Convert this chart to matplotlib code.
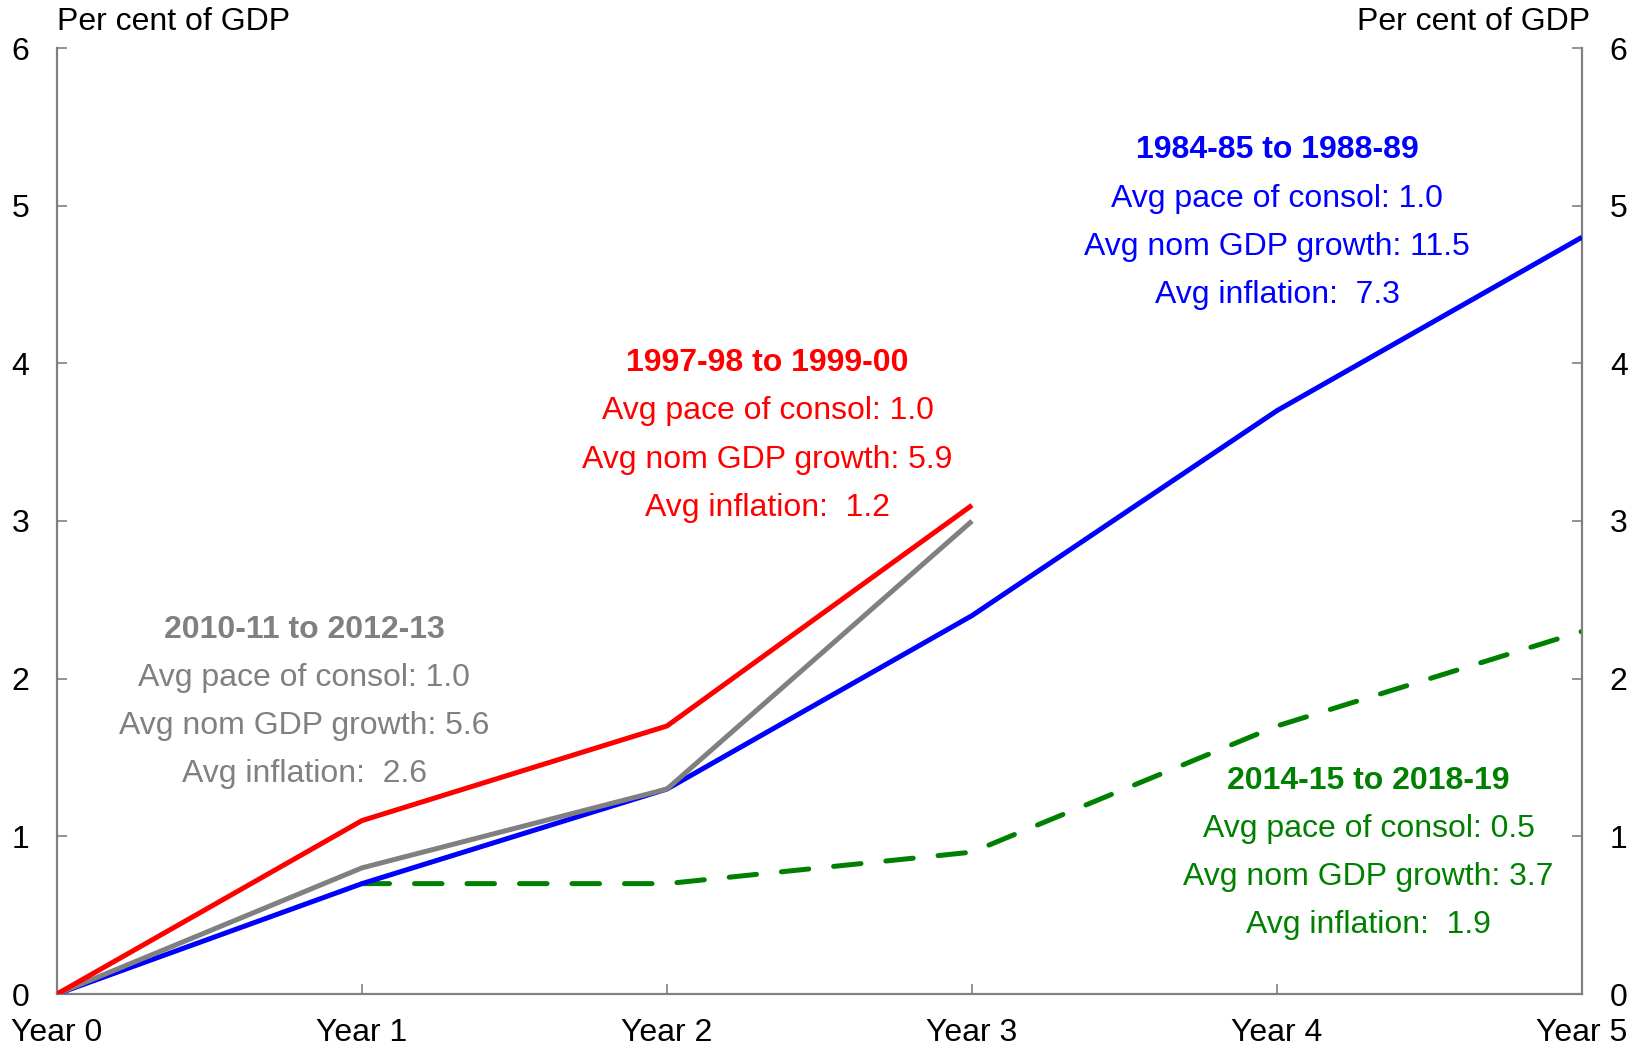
import numpy as np
import matplotlib
matplotlib.use('Agg')
import matplotlib.pyplot as plt

plt.rcParams['font.family'] = ['Liberation Sans', 'DejaVu Sans']

# Data (per cent of GDP)
years = [0, 1, 2, 3, 4, 5]
year_labels = ['Year 0', 'Year 1', 'Year 2', 'Year 3', 'Year 4', 'Year 5']

blue_8489 = [0.0, 0.7, 1.3, 2.4, 3.7, 4.8]
red_9700 = [0.0, 1.1, 1.7, 3.1]
grey_1013 = [0.0, 0.8, 1.3, 3.0]
green_1419_x = [1, 2, 3, 4, 5]
green_1419 = [0.7, 0.7, 0.9, 1.7, 2.3]

# annotation text blocks: (title, lines, colour, x, y of title)
blocks = [
    ('1984-85 to 1988-89', ['Avg pace of consol: 1.0', 'Avg nom GDP growth: 11.5', 'Avg inflation:  7.3'],
     '#0000FF', 4.0, 5.35),
    ('1997-98 to 1999-00', ['Avg pace of consol: 1.0', 'Avg nom GDP growth: 5.9', 'Avg inflation:  1.2'],
     '#FF0000', 2.33, 4.0),
    ('2010-11 to 2012-13', ['Avg pace of consol: 1.0', 'Avg nom GDP growth: 5.6', 'Avg inflation:  2.6'],
     '#808080', 0.81, 2.31),
    ('2014-15 to 2018-19', ['Avg pace of consol: 0.5', 'Avg nom GDP growth: 3.7', 'Avg inflation:  1.9'],
     '#008000', 4.30, 1.35),
]

fs = 23

fig = plt.figure(figsize=(16.39, 10.48), dpi=100)
ax = fig.add_axes([57 / 1639, 1 - 994 / 1048, (1582 - 57) / 1639, (994 - 48) / 1048])

lw = 3.6
ax.plot(years, blue_8489, color='#0000FF', lw=lw, solid_capstyle='butt', zorder=3)
ax.plot(years[:4], grey_1013, color='#808080', lw=lw, solid_capstyle='butt', zorder=4)
ax.plot(years[:4], red_9700, color='#FF0000', lw=lw, solid_capstyle='butt', zorder=5)
ax.plot(green_1419_x, green_1419, color='#008000', lw=lw, dashes=(5.5, 5),
        dash_capstyle='round', zorder=2)

ax.set_xlim(0, 5)
ax.set_ylim(0, 6)
ax.set_xticks(years)
ax.set_xticklabels(year_labels)
ax.set_yticks(range(7))

spine_col = '#808080'
ax.spines['top'].set_visible(False)
for s in ['left', 'right', 'bottom']:
    ax.spines[s].set_color(spine_col)
    ax.spines[s].set_linewidth(1.6)

ax.tick_params(axis='both', direction='in', length=7, width=1.2, color=spine_col,
               labelsize=fs, labelcolor='black')
ax.tick_params(axis='y', left=True, right=True, labelleft=True, labelright=True, pad=20)
ax.tick_params(axis='x', pad=17)

fig.text(57 / 1639, 1 - 22 / 1048, 'Per cent of GDP', fontsize=fs, ha='left', va='center')
fig.text(1590 / 1639, 1 - 22 / 1048, 'Per cent of GDP', fontsize=fs, ha='right', va='center')

step = 0.305
for title, lines, col, bx, by in blocks:
    ax.text(bx, by, title, color=col, fontsize=fs, fontweight='bold', ha='center', va='center')
    for i, ln in enumerate(lines):
        ax.text(bx, by - step * (i + 1), ln, color=col, fontsize=fs, ha='center', va='center')

fig.savefig('out.png', dpi=100)
